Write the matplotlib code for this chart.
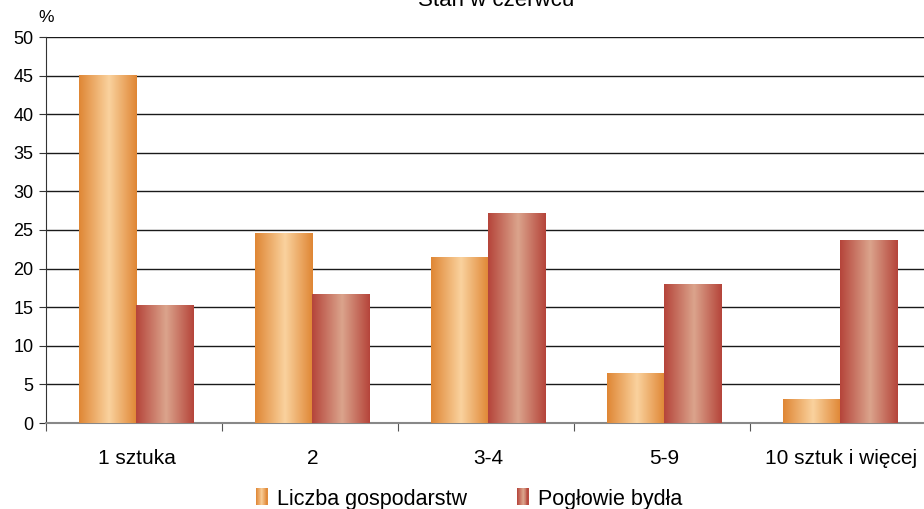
import numpy as np
import matplotlib.pyplot as plt
from matplotlib.colors import LinearSegmentedColormap
from matplotlib.patches import Rectangle
from matplotlib.legend_handler import HandlerBase

plt.rcParams['font.family'] = ['Liberation Sans', 'DejaVu Sans']

categories = ['1 sztuka', '2', '3-4', '5-9', '10 sztuk i więcej']
liczba_gosp = [45.0, 24.6, 21.5, 6.4, 3.0]
poglowie = [15.2, 16.7, 27.2, 18.0, 23.6]
series_names = ['Liczba gospodarstw', 'Pogłowie bydła']

orange_cm = LinearSegmentedColormap.from_list(
    'org', [(0, '#DF8634'), (0.52, '#FAD29E'), (1, '#DF8634')])
red_cm = LinearSegmentedColormap.from_list(
    'red', [(0, '#B5443A'), (0.52, '#DBA48C'), (1, '#B5443A')])

fig = plt.figure(figsize=(9.24, 5.09), dpi=100)
ax = fig.add_axes([46 / 924, 86 / 509, 880 / 924, 386 / 509])

x = np.arange(len(categories))
w = 0.327
shift = 0.012
b1 = ax.bar(x - w / 2 + shift, liczba_gosp, w, color='none', zorder=3)
b2 = ax.bar(x + w / 2 + shift, poglowie, w, color='none', zorder=3)

# gradient fill for every bar
grad = np.linspace(0, 1, 256).reshape(1, -1)
for bars, cm in ((b1, orange_cm), (b2, red_cm)):
    for p in bars:
        x0, y0 = p.get_x(), p.get_y()
        ax.imshow(grad, cmap=cm, aspect='auto', zorder=3,
                  extent=(x0, x0 + p.get_width(), y0, y0 + p.get_height()))

ax.set_xlim(-0.5, len(categories) - 0.5)
ax.set_ylim(0, 50)
ax.set_yticks(np.arange(0, 51, 5))
ax.yaxis.grid(True, color='#1a1a1a', linewidth=1.0, zorder=1)
ax.set_axisbelow(True)

ax.set_xticks(np.arange(-0.5, len(categories), 1.0))
ax.set_xticklabels([])
ax.set_xticks(x + 0.015, minor=True)
ax.set_xticklabels(categories, minor=True)
ax.tick_params(axis='x', which='minor', length=0, pad=19, labelsize=15)
ax.tick_params(axis='x', which='major', length=6, color='#555555', direction='out')
ax.tick_params(axis='y', length=5, color='#333333', labelsize=13, pad=4)

for s in ('top', 'right'):
    ax.spines[s].set_visible(False)
ax.spines['left'].set_color('#333333')
ax.spines['bottom'].set_color('#888888')
ax.spines['bottom'].set_linewidth(1.5)

fig.text(46 / 924, 1 - 18 / 509, '%', ha='center', va='center', fontsize=12.5)
fig.text(496 / 924, 1 - 6 / 509, 'Stan w czerwcu', ha='center', va='baseline', fontsize=16)


class GradHandler(HandlerBase):
    def __init__(self, cm):
        super().__init__()
        self.cm = cm

    def create_artists(self, legend, orig, xd, yd, width, height, fontsize, trans):
        n = 12
        arts = []
        for i in range(n):
            r = Rectangle((xd + i * width / n, yd), width / n + 0.3, height,
                          facecolor=self.cm((i + 0.5) / n), edgecolor='none',
                          transform=trans)
            arts.append(r)
        return arts


h1 = Rectangle((0, 0), 1, 1)
h2 = Rectangle((0, 0), 1, 1)
fig.legend([h1, h2], series_names, loc='center', bbox_to_anchor=(469 / 924, 1 - 500 / 509),
           ncol=2, frameon=False, fontsize=15.5, handlelength=0.55, handleheight=0.8,
           handletextpad=0.45, columnspacing=2.3,
           handler_map={h1: GradHandler(orange_cm), h2: GradHandler(red_cm)})

fig.savefig('out.png', dpi=100)
